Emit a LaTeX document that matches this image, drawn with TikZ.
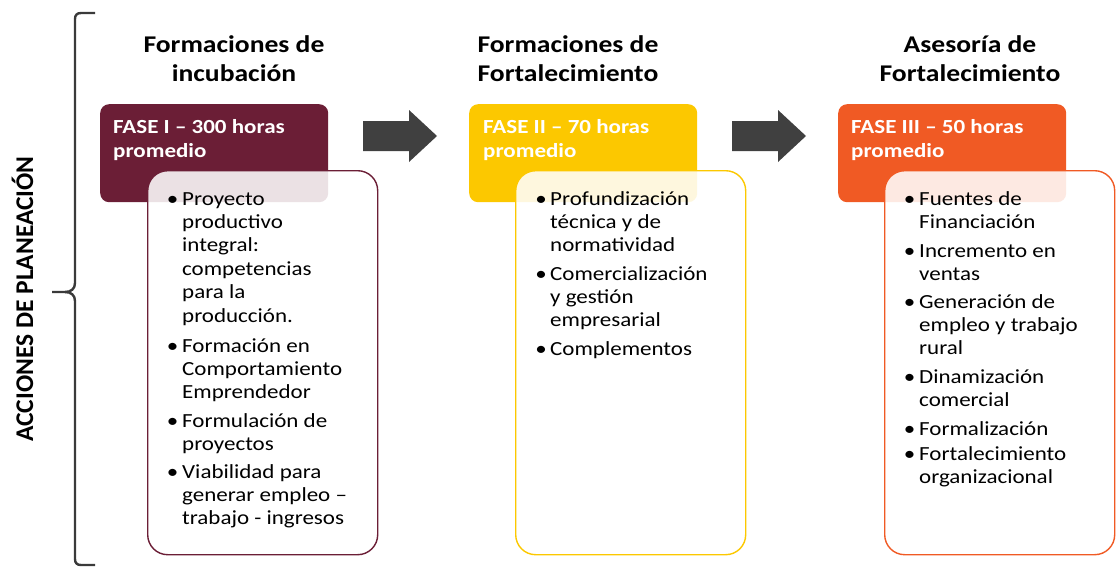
\documentclass[tikz,border=0pt]{standalone}
\usepackage{fontspec}
\setmainfont{Carlito}[FakeStretch=1.15]
\newfontfamily\vfont{Carlito}
\definecolor{cmaroon}{HTML}{6B1E36}
\definecolor{cgold}{HTML}{FCC800}
\definecolor{corange}{HTML}{F05A24}
\definecolor{arrowgray}{HTML}{404040}
\definecolor{bracegray}{HTML}{3A3A3A}
\begin{document}
\begin{tikzpicture}[x=1pt,y=-1pt,
  hdr/.style={rounded corners=9pt, minimum width=228pt, minimum height=98pt, anchor=north west, inner sep=0pt, draw=none},
  cbox/.style={rounded corners=20pt, minimum width=230pt, minimum height=384pt, anchor=north west, inner sep=0pt, fill=white, fill opacity=0.87, line width=1.4pt},
  ttl/.style={font=\fontsize{24}{29}\selectfont\bfseries, align=center, anchor=base, inner sep=0pt},
  htxt/.style={font=\fontsize{20}{24}\selectfont\bfseries, text=white, align=left, anchor=base west, inner sep=0pt},
  itm/.style={font=\fontsize{20}{23.4}\selectfont, align=left, anchor=base west, inner sep=0pt},
  bul/.style={font=\fontsize{20}{23.4}\selectfont, anchor=base, inner sep=0pt},
  blockarrow/.style={fill=arrowgray},
  bracestyle/.style={draw=bracegray, line width=2.4pt}]
\useasboundingbox (0,0) rectangle (1120,568);

% brace and side label
\draw[bracestyle] (95,13) -- (81,13) .. controls (77,13) and (75,15) .. (75,19) -- (75,283) .. controls (75,289) and (71,292) .. (65,292) -- (52,292);
\draw[bracestyle] (65,292) .. controls (71,292) and (75,295) .. (75,301) -- (75,559) .. controls (75,563) and (77,565) .. (81,565) -- (95,565);
\node[rotate=90, anchor=base, inner sep=0pt, font=\vfont\fontsize{25.5}{30}\selectfont\bfseries] (vt) at (33,299) {ACCIONES DE PLANEACIÓN};

% titles (anchor base = baseline of last line)
\node[ttl] (t1) at (234,81) {Formaciones de\\incubación};
\node[ttl] (t2) at (568,81) {Formaciones de\\Fortalecimiento};
\node[ttl] (t3) at (970,81) {Asesoría de\\Fortalecimiento};

% headers
\node[hdr, fill=cmaroon] (h1) at (100,104) {};
\node[hdr, fill=cgold] (h2) at (469,104) {};
\node[hdr, fill=corange] (h3) at (838,104) {};
\node[htxt] (h1t) at (113,157) {FASE I – 300 horas\\promedio};
\node[htxt] (h2t) at (483,157) {FASE II – 70 horas\\promedio};
\node[htxt] (h3t) at (851,157) {FASE III – 50 horas\\promedio};

% content boxes
\node[cbox, draw=cmaroon] (c1) at (147,170) {};
\node[cbox, draw=cgold] (c2) at (515,170) {};
\node[cbox, draw=corange] (c3) at (884,170) {};

% arrows
\fill[blockarrow] (363,121) -- (409,121) -- (409,110) -- (437,136) -- (409,162) -- (409,151) -- (363,151) -- cycle;
\fill[blockarrow] (732,121) -- (778,121) -- (778,110) -- (806,136) -- (778,162) -- (778,151) -- (732,151) -- cycle;

% box 1 items (bullets at first baseline, text anchored at last baseline)
\node[bul] (b1a) at (172.5,205) {•};
\node[itm] (i1a) at (182,322) {Proyecto\\productivo\\integral:\\competencias\\para la\\producción.};
\node[bul] (b1b) at (172.5,352) {•};
\node[itm] (i1b) at (182,398.8) {Formación en\\Comportamiento\\Emprendedor};
\node[bul] (b1c) at (172.5,427) {•};
\node[itm] (i1c) at (182,450.4) {Formulación de\\proyectos};
\node[bul] (b1d) at (172.5,478) {•};
\node[itm] (i1d) at (182,524.8) {Viabilidad para\\generar empleo –\\trabajo - ingresos};

% box 2 items
\node[bul] (b2a) at (541,205) {•};
\node[itm] (i2a) at (550,251.8) {Profundización\\técnica y de\\normatividad};
\node[bul] (b2b) at (541,280) {•};
\node[itm] (i2b) at (550,326.8) {Comercialización\\y gestión\\empresarial};
\node[bul] (b2c) at (541,355) {•};
\node[itm] (i2c) at (550,355) {Complementos};

% box 3 items
\node[bul] (b3a) at (909.5,205) {•};
\node[itm] (i3a) at (919,228.4) {Fuentes de\\Financiación};
\node[bul] (b3b) at (909.5,257) {•};
\node[itm] (i3b) at (919,280.4) {Incremento en\\ventas};
\node[bul] (b3c) at (909.5,308) {•};
\node[itm] (i3c) at (919,354.8) {Generación de\\empleo y trabajo\\rural};
\node[bul] (b3d) at (909.5,383) {•};
\node[itm] (i3d) at (919,406.4) {Dinamización\\comercial};
\node[bul] (b3e) at (909.5,435) {•};
\node[itm] (i3e) at (919,435) {Formalización};
\node[bul] (b3f) at (909.5,460) {•};
\node[itm] (i3f) at (919,483.4) {Fortalecimiento\\organizacional};
\end{tikzpicture}
\end{document}
